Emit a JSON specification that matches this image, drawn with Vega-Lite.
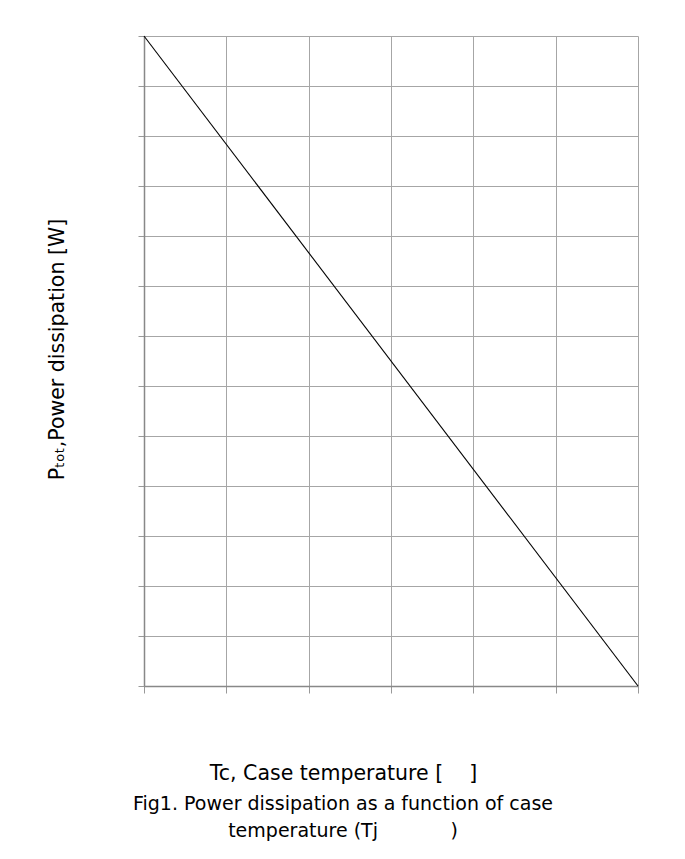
{
  "$schema": "https://vega.github.io/schema/vega-lite/v6.json",
  "width": 494,
  "height": 650,
  "autosize": {"type": "none"},
  "padding": {"left": 144, "top": 36, "right": 47, "bottom": 173},
  "background": "white",
  "config": {
    "view": {"stroke": null},
    "font": "DejaVu Sans"
  },
  "title": {
    "text": ["Fig1. Power dissipation as a function of case", "temperature (Tj\u00a0\u00a0\u00a0\u00a0\u00a0\u00a0\u00a0\u00a0\u00a0\u00a0\u00a0\u00a0)"],
    "orient": "bottom",
    "anchor": "middle",
    "dx": -48,
    "offset": 11,
    "fontSize": 19,
    "fontWeight": "normal",
    "lineHeight": 27,
    "color": "#000000",
    "font": "DejaVu Sans"
  },
  "data": {
    "values": [
      {"tc": 0, "p": 130},
      {"tc": 150, "p": 0}
    ]
  },
  "mark": {"type": "line", "color": "#000000", "strokeWidth": 1.1},
  "encoding": {
    "x": {
      "field": "tc",
      "type": "quantitative",
      "scale": {"domain": [0, 150], "nice": false, "zero": false},
      "axis": {
        "values": [0, 25, 50, 75, 100, 125, 150],
        "labels": false,
        "ticks": true,
        "tickSize": 7,
        "tickColor": "#999999",
        "domainColor": "#888888",
        "domainWidth": 1.5,
        "gridColor": "#a6a6a6",
        "gridWidth": 1,
        "grid": true,
        "title": "Tc, Case temperature [\u00a0\u00a0\u00a0\u00a0]",
        "titleFont": "DejaVu Sans",
        "titleFontSize": 20.5,
        "titleFontWeight": "normal",
        "titleColor": "#000000",
        "titleX": 199,
        "titleY": 87,
        "titleAlign": "center",
        "titleBaseline": "middle",
        "titleAnchor": null
      }
    },
    "y": {
      "field": "p",
      "type": "quantitative",
      "scale": {"domain": [0, 130], "nice": false, "zero": true},
      "axis": {
        "values": [0, 10, 20, 30, 40, 50, 60, 70, 80, 90, 100, 110, 120, 130],
        "labels": false,
        "ticks": true,
        "tickSize": 6,
        "tickColor": "#999999",
        "domainColor": "#888888",
        "domainWidth": 1.5,
        "gridColor": "#a6a6a6",
        "gridWidth": 1,
        "grid": true,
        "title": "Pₜₒₜ,Power dissipation [W]",
        "titleFont": "DejaVu Sans",
        "titleFontSize": 20.5,
        "titleFontWeight": "normal",
        "titleColor": "#000000",
        "titleAngle": -90,
        "titleX": -87,
        "titleY": 313,
        "titleAlign": "center",
        "titleBaseline": "middle",
        "titleAnchor": null
      }
    }
  }
}
